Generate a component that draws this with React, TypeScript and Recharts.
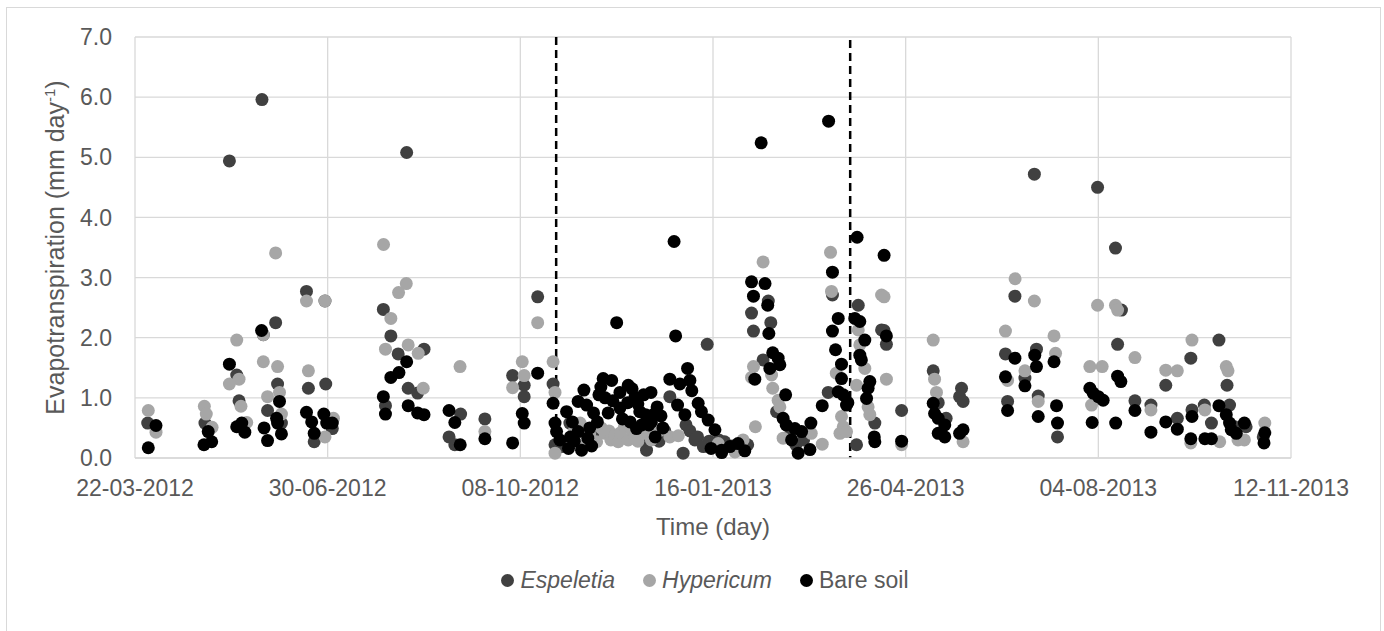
import {
  ScatterChart,
  Scatter,
  XAxis,
  YAxis,
  CartesianGrid,
  ReferenceLine,
  Label,
} from "recharts";

// x = days since 22-03-2012, y = evapotranspiration (mm/day)
const espeletia: [number, number][] = [
  [6.6, 0.58], [36.3, 0.58], [49, 4.94], [52.8, 1.38], [54, 0.95], [65.9, 5.96], [66.6, 2.05],
  [73, 2.25], [74, 1.23], [68.8, 0.79], [76, 0.58], [89, 2.77], [98.6, 2.61], [90, 1.16],
  [99, 1.23], [93, 0.27], [102.4, 0.49], [141, 5.08], [128.9, 2.47], [132.8, 2.03], [150, 1.81],
  [136.6, 1.73], [141.8, 1.16], [146.7, 1.08], [130, 0.87], [169, 0.73], [163, 0.35], [166, 0.22],
  [181.6, 0.65], [196, 1.37], [202, 1.21], [202, 1.02], [209, 2.68], [217, 1.23], [218, 0.22],
  [225.7, 0.58], [221.4, 0.19], [232, 0.45], [238, 0.35], [264.7, 0.3], [265.5, 0.13],
  [272, 0.28], [275, 0.45], [277.6, 1.02], [284.5, 0.08], [286, 0.55], [288, 0.45], [290.6, 0.3],
  [292, 0.35], [295, 0.19], [297, 1.89], [298, 0.28], [300, 0.22], [303, 0.3], [306, 0.27],
  [310, 0.2], [314, 0.15], [318, 0.22], [328.7, 2.61], [320, 2.41], [330, 2.25], [321, 2.11],
  [326, 1.63], [333, 0.77], [339, 0.35], [343, 0.22], [347, 0.3], [362, 2.71], [359.8, 1.09],
  [374.5, 0.22], [375.4, 2.54], [384, 0.58], [387.5, 2.13], [388.8, 2.12], [390, 1.89],
  [397.9, 0.79], [414.3, 1.45], [416.9, 0.92], [421, 0.66], [429, 1.16], [428, 1.02], [429.8, 0.94],
  [456.7, 2.69], [451.8, 1.73], [452.9, 0.94], [461.9, 1.33], [466.8, 4.72], [467.9, 1.81],
  [468.8, 1.03], [478.8, 0.35], [499.6, 4.5], [508.9, 3.49], [512, 2.46], [510, 1.89], [519, 0.95],
  [527.3, 0.88], [535, 1.21], [541, 0.66], [548, 1.66], [548.6, 0.8], [558.7, 0.58], [555, 0.88],
  [562.6, 1.96], [566.8, 1.21], [568.1, 0.88], [570.7, 0.52], [576.7, 0.52], [585.6, 0.35],
];

const hypericum: [number, number][] = [
  [6.9, 0.79], [10.9, 0.43], [36, 0.86], [37, 0.73], [40, 0.51], [52.8, 1.96], [54, 1.31],
  [49, 1.23], [55, 0.86], [58, 0.59], [66.6, 2.05], [66.6, 1.6], [73, 3.41], [74, 1.52], [75, 1.09],
  [68.8, 1.02], [76, 0.73], [89, 2.61], [98.6, 2.61], [90, 1.45], [98.6, 0.35], [103, 0.66],
  [129, 3.55], [140.8, 2.9], [136.8, 2.75], [132.8, 2.32], [130, 1.81], [141.8, 1.88], [147, 1.74],
  [149.6, 1.16], [168.7, 1.52], [181.6, 0.44], [196, 1.17], [201, 1.6], [202, 1.37], [209, 2.25],
  [217, 1.6], [218, 1.09], [218, 0.08], [228, 0.45], [231, 0.58], [234.4, 0.24], [236, 0.4],
  [239.6, 0.27], [242, 0.5], [244, 0.41], [246, 0.45], [247, 0.3], [249, 0.38], [250.8, 0.27],
  [252, 0.42], [254, 0.52], [256, 0.3], [258, 0.45], [259.5, 0.35], [261, 0.28], [263, 0.41],
  [266, 0.4], [268, 0.3], [270, 0.49], [272, 0.45], [277.6, 0.35], [282, 0.37], [302.7, 0.24],
  [311.4, 0.1], [315.6, 0.3], [322, 0.52], [326, 3.26], [321, 1.52], [320, 1.34], [330.4, 1.38],
  [331, 1.16], [333.8, 0.96], [334.7, 0.85], [336.4, 0.33], [351, 0.41], [356.7, 0.23], [361, 3.42],
  [361.5, 2.77], [364, 1.41], [366.7, 0.69], [367.6, 0.52], [365.9, 0.41], [369.3, 0.44],
  [374.5, 1.21], [375.4, 2.13], [376.2, 1.88], [378.8, 1.49], [380.5, 0.85], [381.4, 0.72],
  [387.5, 2.71], [388.8, 2.68], [390, 1.31], [397.9, 0.22], [414.3, 1.96], [415, 1.31], [416, 1.09],
  [429.8, 0.27], [456.8, 2.98], [451.8, 2.11], [452.9, 1.29], [461.9, 1.45], [466.8, 2.61],
  [468.8, 0.94], [477, 2.03], [477.8, 1.74], [499.6, 2.54], [508.9, 2.54], [510, 2.46], [519, 1.67],
  [495.6, 1.52], [502, 1.52], [496.5, 0.88], [527.3, 0.8], [535, 1.46], [541, 1.45], [548.6, 1.96],
  [548, 0.25], [555.3, 0.8], [563, 0.27], [566.4, 1.52], [567.3, 1.45], [572.5, 0.3], [575.8, 0.3],
  [586.4, 0.58],
];

const bareSoil: [number, number][] = [
  [6.9, 0.17], [10.9, 0.54], [38, 0.44], [39.8, 0.27], [35.8, 0.22], [49, 1.56], [52.8, 0.52],
  [55.4, 0.58], [57, 0.43], [65.7, 2.12], [75, 0.94], [73.5, 0.66], [74, 0.58], [67, 0.5],
  [68.8, 0.29], [76, 0.4], [89, 0.76], [91.7, 0.6], [93, 0.41], [98, 0.73], [99.5, 0.58],
  [102.4, 0.58], [141, 1.6], [137, 1.42], [132.8, 1.34], [128.9, 1.02], [130, 0.73], [141.8, 0.87],
  [146.7, 0.75], [150, 0.72], [163, 0.79], [166, 0.59], [168.8, 0.22], [181.6, 0.32], [196, 0.25],
  [201, 0.74], [202, 0.58], [209, 1.41], [217, 0.91], [218, 0.58], [218.8, 0.44], [220.5, 0.3],
  [224, 0.77], [225, 0.16], [226, 0.35], [227, 0.6], [228, 0.28], [230, 0.94], [230, 0.44],
  [231.8, 0.13], [233, 1.13], [234.4, 0.88], [235, 0.33], [236, 0.5], [237, 0.2], [238, 0.75],
  [240, 0.6], [240.8, 1.05], [241.8, 1.18], [243, 1.32], [244, 1.0], [245.6, 0.75], [247.4, 1.29],
  [248, 0.95], [250, 2.25], [251.7, 1.09], [251.7, 0.83], [253, 0.65], [255.7, 0.92], [256, 1.21],
  [257, 0.6], [258, 1.15], [259.5, 1.01], [260.3, 0.49], [261, 0.9], [262, 0.77], [263, 0.55],
  [264, 1.05], [265, 0.72], [266.7, 0.55], [267.8, 1.09], [268, 0.6], [269.5, 0.73], [270, 0.35],
  [271, 0.85], [273, 0.7], [274, 0.5], [277.6, 1.31], [280.6, 2.03], [279.8, 3.6], [281.6, 0.88],
  [282.8, 1.23], [285.4, 0.72], [286.8, 1.49], [288, 1.29], [289, 1.12], [292.3, 0.91], [294, 0.77],
  [297.5, 0.63], [299, 0.16], [301, 0.47], [304.5, 0.09], [304.5, 0.13], [308.8, 0.19], [313, 0.24],
  [316.5, 0.12], [320, 2.93], [321, 2.69], [321.7, 1.31], [325, 5.24], [327, 2.9], [328.4, 2.54],
  [329, 2.07], [329.5, 1.49], [331, 1.75], [333.8, 1.66], [334.7, 1.55], [336.4, 0.66],
  [337.7, 1.05], [338, 0.55], [340.8, 0.3], [342.5, 0.49], [344.2, 0.08], [346, 0.44], [350.3, 0.14],
  [350.8, 0.58], [356.7, 0.87], [360, 5.6], [362, 3.09], [362, 2.11], [363.6, 1.8], [365, 2.32],
  [365, 1.1], [366.7, 1.56], [366.7, 1.32], [367.6, 1.05], [369.3, 0.88], [370, 0.92], [373.6, 2.32],
  [374.8, 3.67], [376.2, 2.27], [376.2, 1.71], [377, 1.63], [378.8, 1.96], [379.7, 0.99],
  [380.5, 1.16], [381.4, 1.27], [383.7, 0.35], [384, 0.27], [388.8, 3.37], [390, 2.03],
  [397.9, 0.28], [414.3, 0.91], [415, 0.74], [416.9, 0.66], [416.9, 0.41], [420.3, 0.55],
  [420.3, 0.35], [429.8, 0.47], [428, 0.41], [456.7, 1.66], [451.8, 1.35], [452.9, 0.79],
  [461.9, 1.2], [467, 1.71], [467.9, 1.52], [468.8, 0.69], [477, 1.6], [478.3, 0.87], [478.8, 0.58],
  [495.6, 1.16], [497.3, 1.08], [500, 1.02], [502.5, 0.96], [496.8, 0.59], [509, 0.58],
  [510, 1.36], [511.7, 1.27], [519, 0.79], [527.3, 0.43], [535, 0.6], [541, 0.48], [548.6, 0.69],
  [548, 0.32], [555.3, 0.32], [558.7, 0.32], [562.6, 0.87], [566.4, 0.72], [568.1, 0.58],
  [569, 0.47], [571.6, 0.41], [575.8, 0.58], [586.4, 0.42], [586, 0.25],
];

const xTicks = [0, 100, 200, 300, 400, 500, 600];
const yTicks = [0, 1, 2, 3, 4, 5, 6, 7];
// dashed separators (day, top of the line)
const phaseBreaks = [
  { day: 218.6, top: 7 },
  { day: 371.2, top: 6.95 },
];

const series = [
  { name: "Espeletia", data: espeletia, color: "#404040", italic: true },
  { name: "Hypericum", data: hypericum, color: "#a6a6a6", italic: true },
  { name: "Bare soil", data: bareSoil, color: "#000000", italic: false },
];

const START = Date.UTC(2012, 2, 22);
const pad = (n: number) => String(n).padStart(2, "0");
const fmtDate = (d: number) => {
  const dt = new Date(START + d * 86400000);
  return `${pad(dt.getUTCDate())}-${pad(dt.getUTCMonth() + 1)}-${dt.getUTCFullYear()}`;
};

const FONT = "'Liberation Sans', Arial, sans-serif";
const GREY = "#595959";

const dot = (fill: string) => (props: any) =>
  <circle cx={props.cx} cy={props.cy} r={6.5} fill={fill} />;

function YTitle({ viewBox }: any) {
  const x = viewBox.x + 9;
  const y = viewBox.y + viewBox.height / 2;
  return (
    <text
      x={x}
      y={y}
      transform={`rotate(-90, ${x}, ${y})`}
      textAnchor="middle"
      fill={GREY}
      fontSize={25}
      fontFamily={FONT}
    >
      Evapotranspiration (mm day
      <tspan dy={-9} fontSize={15}>-1</tspan>
      <tspan dy={9}>)</tspan>
    </text>
  );
}

export default function App() {
  return (
    <div>
      <div
        style={{
          position: "absolute",
          left: 6,
          top: 7,
          width: 1373,
          height: 640,
          border: "1px solid #d9d9d9",
        }}
      />
      <div style={{ position: "absolute", left: 0, top: 0 }}>
        <ScatterChart
          width={1384}
          height={631}
          margin={{ top: 37, right: 93, bottom: 93, left: 55 }}
        >
          <CartesianGrid stroke="#d9d9d9" strokeWidth={1.3} />
          <XAxis
            type="number"
            dataKey="day"
            domain={[0, 600]}
            ticks={xTicks}
            tickFormatter={fmtDate}
            height={80}
            tickSize={6}
            tickMargin={16}
            tickLine={false}
            axisLine={{ stroke: "#d9d9d9", strokeWidth: 1.3 }}
            tick={{ fill: GREY, fontSize: 23, fontFamily: FONT }}
          >
            <Label
              value="Time (day)"
              position="insideBottom"
              offset={3}
              fill={GREY}
              fontSize={24}
              fontFamily={FONT}
            />
          </XAxis>
          <YAxis
            type="number"
            dataKey="et"
            domain={[0, 7]}
            ticks={yTicks}
            tickFormatter={(v: number) => v.toFixed(1)}
            width={80}
            tickSize={6}
            tickMargin={17}
            tickLine={false}
            axisLine={false}
            tick={{ fill: GREY, fontSize: 23, fontFamily: FONT }}
          >
            <Label content={<YTitle />} />
          </YAxis>
          {phaseBreaks.map((b) => (
            <ReferenceLine
              key={b.day}
              segment={[
                { x: b.day, y: b.top },
                { x: b.day, y: 0 },
              ]}
              stroke="#000"
              strokeWidth={2.5}
              strokeDasharray="8 5"
            />
          ))}
          {series.map((s) => (
            <Scatter
              key={s.name}
              name={s.name}
              data={s.data.map(([day, et]) => ({ day, et }))}
              fill={s.color}
              shape={dot(s.color)}
              isAnimationActive={false}
            />
          ))}
        </ScatterChart>
      </div>
      <div
        style={{
          position: "absolute",
          left: 26,
          width: 1358,
          top: 565,
          height: 30,
          display: "flex",
          justifyContent: "center",
          alignItems: "center",
          gap: 28,
          fontFamily: FONT,
          fontSize: 23,
          color: GREY,
        }}
      >
        {series.map((s) => (
          <div key={s.name} style={{ display: "flex", alignItems: "center", gap: 6 }}>
            <span
              style={{
                display: "inline-block",
                width: 13,
                height: 13,
                borderRadius: "50%",
                background: s.color,
              }}
            />
            <span style={{ fontStyle: s.italic ? "italic" : "normal" }}>{s.name}</span>
          </div>
        ))}
      </div>
    </div>
  );
}
